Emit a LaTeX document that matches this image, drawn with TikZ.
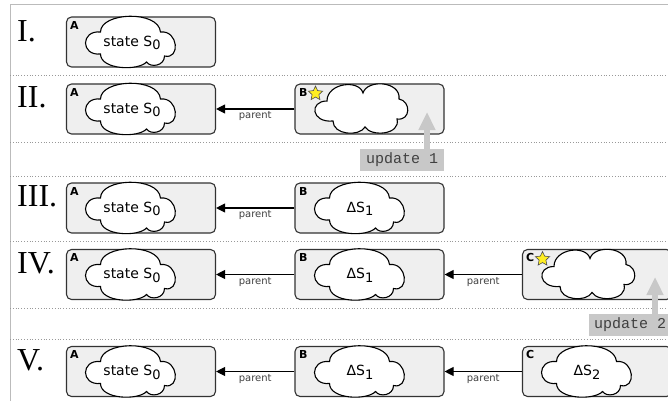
\documentclass[tikz,border=0pt]{standalone}
\usepackage{fontspec}
\setmainfont{Liberation Serif}
\newfontfamily\dejavu{DejaVu Sans}
\newfontfamily\monof{Liberation Mono}
\usetikzlibrary{shapes.geometric,arrows.meta}
\definecolor{boxfill}{HTML}{EFEFEF}
\definecolor{boxline}{HTML}{333333}
\definecolor{updfill}{HTML}{C8C8C8}
\definecolor{updgray}{HTML}{C8C8C8}
\definecolor{framegray}{HTML}{BBBBBB}
\definecolor{sepgray}{HTML}{999999}
\definecolor{staryellow}{HTML}{FFEE22}
\newcommand\lowsub[1]{\raisebox{-3.5pt}{\fontsize{13}{13}\selectfont #1}}
\begin{document}
\begin{tikzpicture}[x=1pt,y=-1pt,
  box/.style={draw=boxline, fill=boxfill, rounded corners=5pt, line width=1.1pt,
    minimum width=149pt, minimum height=50pt, inner sep=0pt},
  cloudline/.style={draw=black, fill=white, line width=1.1pt},
  cloudtext/.style={font=\dejavu\fontsize{14}{16}\selectfont, inner sep=0pt},
  % cloud holding a state
  statecloud/.pic={
    \path[cloudline] (-30,-10)
      .. controls (-30,-30) and (28,-32) .. (30,-10)
      .. controls (48,-12) and (50,18) .. (34,14)
      .. controls (34,24) and (20,26) .. (16,20)
      .. controls (8,29) and (-30,28) .. (-30,12)
      .. controls (-50,14) and (-50,-12) .. (-30,-10) -- cycle;
  },
  % fresh, still empty cloud
  freshcloud/.pic={
    \path[cloudline] (-34,-8)
      .. controls (-34,-26) and (-2,-30) .. (2,-16)
      .. controls (6,-30) and (40,-28) .. (38,-10)
      .. controls (50,-8) and (50,12) .. (36,10)
      .. controls (40,26) and (10,28) .. (4,18)
      .. controls (-2,28) and (-28,26) .. (-28,12)
      .. controls (-50,14) and (-52,-8) .. (-34,-8) -- cycle;
  },
  tag/.style={font=\dejavu\bfseries\fontsize{11}{11}\selectfont, inner sep=0pt,
    anchor=north west},
  roman/.style={font=\fontsize{32}{32}\selectfont, anchor=base west, inner sep=0pt},
  parentarrow/.style={-{Triangle[width=9pt,length=9pt]}, line width=1.1pt},
  plabel/.style={font=\dejavu\fontsize{10}{10}\selectfont, text=black!75,
    below=1pt, inner sep=1pt},
  updbox/.style={fill=updfill, font=\monof\fontsize{15}{15}\selectfont,
    text=black!75, minimum height=22pt, inner sep=0pt},
  updarrow/.style={draw=updgray, line width=6pt,
    -{Triangle[width=16pt,length=18pt]}},
  sep/.style={draw=sepgray, dotted, line width=0.8pt},
  frame/.style={draw=framegray, line width=1pt},
  newstar/.style={star, star points=5, star point ratio=2.1, fill=staryellow,
    draw=black!70, minimum size=15pt, inner sep=0pt, line width=0.6pt}]

\clip (0,0) rectangle (668,401);

% outer frame and row separators
\draw[frame] (10,401) -- (10,5) -- (668,5);
\foreach \yy in {75.5,142.5,176,241,308,339}
  \draw[sep] (10,\yy) -- (668,\yy);

% row I
\node[roman] (r1) at (17,42) {I.};
\node[box] (A1) at (141,42) {};
\node[tag] (tA1) at (70,21) {A};
\pic at (130.5,42) {statecloud};
\node[cloudtext] (cA1) at (132,43) {state S\lowsub{0}};

% row II
\node[roman] (r2) at (17,107) {II.};
\node[box] (A2) at (141,109) {};
\node[tag] (tA2) at (70,88) {A};
\pic at (130.5,109) {statecloud};
\node[cloudtext] (cA2) at (132,110) {state S\lowsub{0}};
\node[box] (B2) at (369.5,109) {};
\node[tag] (tB2) at (299,88) {B};
\node[newstar] (sB2) at (315.5,93.5) {};
\pic at (361,109) {freshcloud};
\draw[parentarrow] (B2.west) -- node[plabel] {parent} (A2.east);
\node[updbox, minimum width=84pt] (u1) at (402,160) {update 1};
\coordinate (u1tip) at (427,112);
\draw[updarrow] (u1.north -| u1tip) -- (u1tip);

% row III
\node[roman] (r3) at (17,206) {III.};
\node[box] (A3) at (141,208) {};
\node[tag] (tA3) at (70,187) {A};
\pic at (130.5,208) {statecloud};
\node[cloudtext] (cA3) at (132,209) {state S\lowsub{0}};
\node[box] (B3) at (369.5,208) {};
\node[tag] (tB3) at (299,187) {B};
\pic at (359.5,208) {statecloud};
\node[cloudtext] (cB3) at (360,209) {ΔS\lowsub{1}};
\draw[parentarrow] (B3.west) -- node[plabel] {parent} (A3.east);

% row IV
\node[roman] (r4) at (17,273) {IV.};
\node[box] (A4) at (141,274.5) {};
\node[tag] (tA4) at (70,253) {A};
\pic at (130.5,274.5) {statecloud};
\node[cloudtext] (cA4) at (132,275.5) {state S\lowsub{0}};
\node[box] (B4) at (369.5,274.5) {};
\node[tag] (tB4) at (299,253) {B};
\pic at (359.5,274.5) {statecloud};
\node[cloudtext] (cB4) at (360,275.5) {ΔS\lowsub{1}};
\draw[parentarrow] (B4.west) -- node[plabel] {parent} (A4.east);
\node[box] (C4) at (597,274.5) {};
\node[tag] (tC4) at (526,253) {C};
\node[newstar] (sC4) at (542.5,259) {};
\pic at (588,274.5) {freshcloud};
\draw[parentarrow] (C4.west) -- node[plabel] {parent} (B4.east);
\node[updbox, minimum width=82pt] (u2) at (630,325) {update 2};
\coordinate (u2tip) at (655,277);
\draw[updarrow] (u2.north -| u2tip) -- (u2tip);

% row V
\node[roman] (r5) at (17,370) {V.};
\node[box] (A5) at (141,371.5) {};
\node[tag] (tA5) at (70,350) {A};
\pic at (130.5,371.5) {statecloud};
\node[cloudtext] (cA5) at (132,372.5) {state S\lowsub{0}};
\node[box] (B5) at (369.5,371.5) {};
\node[tag] (tB5) at (299,350) {B};
\pic at (359.5,371.5) {statecloud};
\node[cloudtext] (cB5) at (360,372.5) {ΔS\lowsub{1}};
\draw[parentarrow] (B5.west) -- node[plabel] {parent} (A5.east);
\node[box] (C5) at (597,371.5) {};
\node[tag] (tC5) at (526,350) {C};
\pic at (586.5,371.5) {statecloud};
\node[cloudtext] (cC5) at (587,372.5) {ΔS\lowsub{2}};
\draw[parentarrow] (C5.west) -- node[plabel] {parent} (B5.east);
\end{tikzpicture}
\end{document}
